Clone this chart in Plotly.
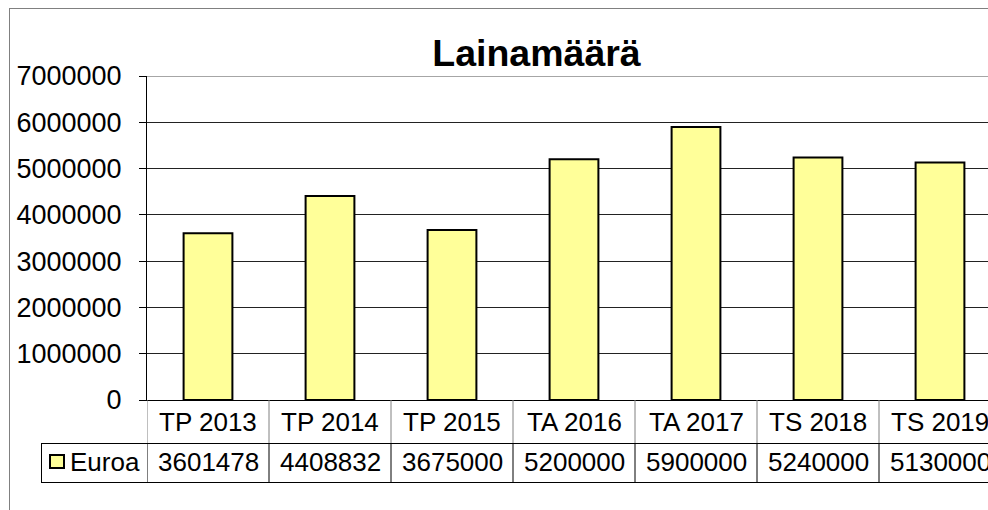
import plotly.graph_objects as go

categories = ["TP 2013", "TP 2014", "TP 2015", "TA 2016", "TA 2017", "TS 2018", "TS 2019"]
values = [3601478, 4408832, 3675000, 5200000, 5900000, 5240000, 5130000]
series_name = "Euroa"
title_text = "Lainamäärä"
y_ticks = [0, 1000000, 2000000, 3000000, 4000000, 5000000, 6000000, 7000000]

W, H = 988, 510
PL, PR, PT, PB = 147, 988, 76, 400
CAT_W = 122.0
FONT = "Liberation Sans, Arial, sans-serif"
FS_TICK = 27
FS_TABLE = 26


def xp(px):
    return (px - PL) / (PR - PL)


def yp(py):
    return (PB - py) / (PB - PT)


fig = go.Figure()
fig.add_trace(go.Bar(
    x=categories, y=values, name=series_name, width=0.4,
    marker=dict(color="#FFFF99", line=dict(color="#000000", width=2)),
    showlegend=False, hoverinfo="x+y",
))

shapes = []
line_black = dict(color="#000000", width=1)
line_gray = dict(color="#808080", width=1)
# outer chart frame
shapes.append(dict(type="line", xref="paper", yref="paper", x0=xp(9), x1=xp(1000), y0=yp(8.5), y1=yp(8.5), line=line_gray))
shapes.append(dict(type="line", xref="paper", yref="paper", x0=xp(9.5), x1=xp(9.5), y0=yp(8), y1=yp(520), line=line_gray))
# top border of plot area (gray)
shapes.append(dict(type="line", xref="paper", yref="y", x0=0, x1=1, y0=y_ticks[-1], y1=y_ticks[-1],
                   line=dict(color="#888888", width=1.5)))
# data table horizontals
for py in (443.5, 482.5):
    shapes.append(dict(type="line", xref="paper", yref="paper", x0=xp(41), x1=xp(1000), y0=yp(py), y1=yp(py), line=line_black))
# legend cell left border
shapes.append(dict(type="line", xref="paper", yref="paper", x0=xp(41.5), x1=xp(41.5), y0=yp(443), y1=yp(483), line=line_black))
# column separators
for i in range(len(categories)):
    xb = i - 0.5
    shapes.append(dict(type="line", xref="x", yref="paper", x0=xb, x1=xb, y0=yp(400), y1=yp(443), line=dict(color="#808080", width=1)))
    shapes.append(dict(type="line", xref="x", yref="paper", x0=xb, x1=xb, y0=yp(443), y1=yp(483), line=line_black))
# legend swatch
shapes.append(dict(type="rect", xref="paper", yref="paper", x0=xp(50), x1=xp(64), y0=yp(468), y1=yp(455),
                   fillcolor="#FFFF99", line=dict(color="#000000", width=2)))

annotations = []
for c, v in zip(categories, values):
    annotations.append(dict(x=c, y=yp(422), xref="x", yref="paper", text=c, showarrow=False,
                            font=dict(family=FONT, size=FS_TABLE, color="#000"), xanchor="center", yanchor="middle"))
    annotations.append(dict(x=c, y=yp(462), xref="x", yref="paper", text=str(v), showarrow=False,
                            font=dict(family=FONT, size=FS_TABLE, color="#000"), xanchor="center", yanchor="middle"))
annotations.append(dict(x=xp(68), y=yp(462), xref="paper", yref="paper", text=series_name, showarrow=False,
                        font=dict(family=FONT, size=FS_TABLE, color="#000"), xanchor="left", yanchor="middle"))

fig.update_layout(
    width=W, height=H,
    margin=dict(l=PL, r=W - PR, t=PT, b=H - PB),
    paper_bgcolor="#FFFFFF", plot_bgcolor="#FFFFFF",
    title=dict(text="<b>" + title_text + "</b>", x=536.5 / W, xanchor="center",
               y=1 - 53 / H, yanchor="middle", yref="container",
               font=dict(family=FONT, size=37.5, color="#000")),
    shapes=shapes, annotations=annotations,
    bargap=0.6,
)
fig.update_xaxes(type="category", range=[-0.5, -0.5 + (PR - PL) / CAT_W], showticklabels=False,
                 showline=True, linecolor="#000", linewidth=1, showgrid=False, ticks="", fixedrange=True)
fig.update_yaxes(range=[0, 7000000], tickvals=y_ticks, ticktext=[str(t) for t in y_ticks],
                 showline=True, linecolor="#000", linewidth=1, ticks="outside", ticklen=7, tickcolor="#000",
                 showgrid=True, gridcolor="#222", gridwidth=1, zeroline=False,
                 tickfont=dict(family=FONT, size=FS_TICK, color="#000"), ticklabelstandoff=12, fixedrange=True)

fig.write_html("out.html", config={"displayModeBar": False},
               post_script="document.body.style.margin='0';document.body.style.padding='0';"
                           "document.body.style.overflow='hidden';"
                           "document.documentElement.style.overflow='hidden';")
